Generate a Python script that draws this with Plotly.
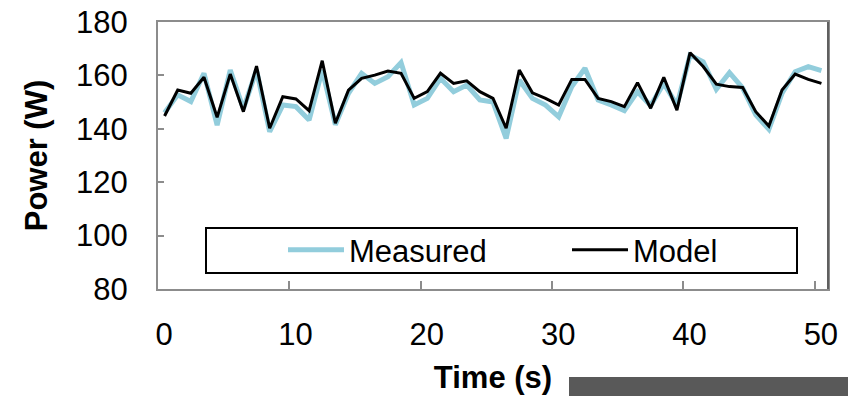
import plotly.graph_objects as go

time_s = [0.5 + i for i in range(51)]

measured_w = [146.0, 152.7, 150.2, 160.8, 141.4, 162.0, 147.5, 162.0, 138.9, 148.9,
              148.3, 143.3, 162.0, 141.5, 153.3, 160.8, 157.0, 159.5, 164.8, 148.9,
              151.4, 158.9, 153.9, 156.4, 150.8, 150.0, 136.4, 158.3, 151.4, 148.9,
              144.5, 155.8, 162.7, 150.8, 148.9, 146.8, 153.9, 148.7, 157.0, 148.9,
              167.6, 165.1, 154.8, 161.0, 155.3, 145.2, 139.8, 153.3, 161.4, 163.3,
              161.8]

model_w = [144.8, 154.5, 153.3, 159.3, 144.3, 160.5, 146.4, 163.5, 140.2, 152.0,
           151.2, 146.8, 165.5, 142.1, 154.5, 158.9, 160.1, 161.6, 160.8, 151.4,
           153.9, 160.8, 157.0, 158.0, 153.9, 151.4, 140.2, 162.0, 153.5, 151.4,
           148.9, 158.5, 158.5, 151.4, 150.2, 148.3, 157.3, 147.7, 159.3, 147.0,
           168.5, 163.3, 156.7, 155.8, 155.5, 146.4, 141.0, 154.5, 160.5, 158.5,
           157.0]

x_ticks = [0, 10, 20, 30, 40, 50]
y_ticks = [80, 100, 120, 140, 160, 180]

FONT = "Liberation Sans, Arial, sans-serif"
AXIS_GRAY = "#8c8c8c"

fig = go.Figure()
fig.add_trace(go.Scatter(x=time_s, y=measured_w, mode="lines", name="Measured",
                         line=dict(color="#92CDDC", width=5), legend="legend"))
fig.add_trace(go.Scatter(x=time_s, y=model_w, mode="lines", name="Model",
                         line=dict(color="#000000", width=3), legend="legend2"))

W, H = 848, 396
L, R, T, B = 158, 20, 22, 107
pw, ph = W - L - R, H - T - B

def px(xp):
    return (xp - L) / pw

def py(yp):
    return (H - B - yp) / ph

legend_common = dict(orientation="h", yanchor="middle", xanchor="left",
                     bgcolor="rgba(0,0,0,0)", borderwidth=0,
                     font=dict(family=FONT, size=31, color="black"),
                     itemwidth=56)

fig.update_layout(
    width=W, height=H,
    margin=dict(l=L, r=R, t=T, b=B, pad=0),
    paper_bgcolor="white", plot_bgcolor="white",
    font=dict(family=FONT, size=31, color="black"),
    showlegend=True,
    legend=dict(x=px(283), y=py(250), **legend_common),
    legend2=dict(x=px(567), y=py(250), **legend_common),
    xaxis=dict(range=[0, 51], tickvals=x_ticks, ticktext=[str(v) for v in x_ticks],
               ticks="inside", ticklen=8, tickcolor=AXIS_GRAY, tickwidth=1.5,
               showline=True, linecolor=AXIS_GRAY, linewidth=2, mirror=True,
               showgrid=False, zeroline=False, ticklabelstandoff=17, ticklabelshift=6,
               automargin=False,
               tickfont=dict(family=FONT, size=31, color="black"),
               title=dict(text="<b>Time (s)</b>", standoff=15,
                          font=dict(family=FONT, size=31, color="black"))),
    yaxis=dict(range=[80, 180], tickvals=y_ticks,
               ticks="inside", ticklen=6, tickcolor=AXIS_GRAY, tickwidth=1.5,
               showline=True, linecolor=AXIS_GRAY, linewidth=2, mirror=True,
               showgrid=False, zeroline=False, ticklabelstandoff=22,
               automargin=False,
               tickfont=dict(family=FONT, size=31, color="black"),
               title=dict(text="<b>Power (W)</b>", standoff=19,
                          font=dict(family=FONT, size=31, color="black"))),
    shapes=[
        dict(type="rect", xref="paper", yref="paper",
             x0=px(206), x1=px(797), y0=py(273), y1=py(228),
             line=dict(color="black", width=2), fillcolor="white", layer="below"),
        dict(type="line", xref="paper", yref="paper",
             x0=1, x1=1, y0=0, y1=1,
             line=dict(color="#5f5f5f", width=2), layer="above"),
        dict(type="rect", xref="paper", yref="paper",
             x0=px(569), x1=px(849), y0=py(397), y1=py(377),
             line=dict(width=0), fillcolor="#595959", layer="above"),
    ],
)

fig.write_html("out.html",
               config={"displayModeBar": False},
               post_script="document.body.style.margin='0';document.body.style.overflow='hidden';")
